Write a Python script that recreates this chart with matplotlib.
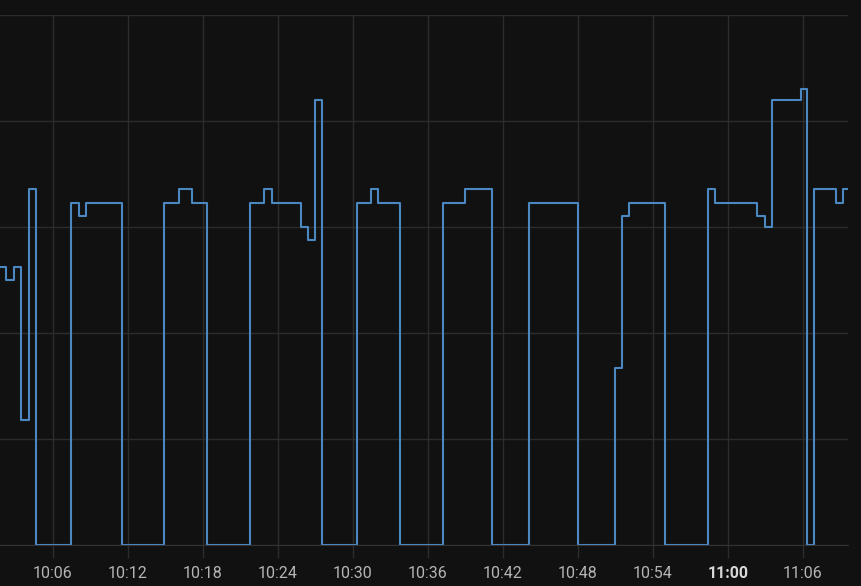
import numpy as np
import pandas as pd
import matplotlib
matplotlib.use("Agg")
import matplotlib.pyplot as plt
import matplotlib.dates as mdates

# step change points: minutes after 10:00 and the value held from there
minutes = [1.76, 2.24, 2.88, 3.44, 4.08, 4.64,
           7.44, 8.08, 8.64, 11.52,
           14.88, 16.08, 17.12, 18.32,
           21.76, 22.88, 23.52, 25.84, 26.40, 26.96, 27.52,
           30.32, 31.44, 32.00, 33.76,
           37.20, 38.96, 41.12,
           44.08, 48.00,
           50.96, 51.52, 52.08, 54.96,
           58.40, 58.96, 62.32, 62.96, 63.52, 65.84, 66.32,
           66.88, 68.64, 69.20, 69.60]
values = [131, 125, 131, 59, 168, 0,
          161.5, 155, 161.5, 0,
          161.5, 168, 161.5, 0,
          161.5, 168, 161.5, 150, 144, 210, 0,
          161.5, 168, 161.5, 0,
          161.5, 168, 0,
          161.5, 0,
          83.5, 155, 161.5, 0,
          168, 161.5, 155, 150, 210, 215, 0,
          168, 161.5, 168, 168]

tick_labels = ["10:06", "10:12", "10:18", "10:24", "10:30", "10:36",
               "10:42", "10:48", "10:54", "11:00", "11:06"]

base = pd.Timestamp("2024-01-01 10:00")
times = base + pd.to_timedelta(minutes, unit="m")

bg = "#111111"
grid = "#2c2c2c"
line_color = "#4b88c2"
label_color = "#b5b5b5"

fig = plt.figure(figsize=(8.61, 5.86), dpi=100, facecolor=bg)
ax = fig.add_axes([0.0, 41 / 586, 848 / 861, 530 / 586])
ax.set_facecolor(bg)

ax.step(times, values, where="post", color=line_color, lw=1.5)

ax.set_ylim(0, 250)
ax.set_yticks(np.arange(0, 251, 50))
ax.set_yticklabels([])
ax.tick_params(axis="y", length=0)

ax.set_xlim(base + pd.Timedelta(minutes=1.76), base + pd.Timedelta(minutes=69.6))
tick_pos = [base + pd.Timedelta(hours=int(t[:2]) - 10, minutes=int(t[3:])) for t in tick_labels]
ax.set_xticks(tick_pos)
ax.xaxis.set_major_formatter(mdates.DateFormatter("%H:%M"))
ax.tick_params(axis="x", length=9, width=1, color=grid, colors=label_color,
               labelsize=11.5, pad=6)
for lbl in ax.get_xticklabels():
    lbl.set_fontfamily("Roboto")
    if lbl.get_text() == "11:00":
        lbl.set_fontweight("bold")
        lbl.set_color("#d8d8d8")

# the 10:00 label sits just off the left edge, only its tail shows
ax.annotate("10:00", xy=(mdates.date2num(base), 0), xycoords=("data", "axes fraction"),
            xytext=(0, -15), textcoords="offset points", ha="center", va="top",
            color=label_color, fontsize=11.5, fontfamily="Roboto", annotation_clip=False)

ax.grid(True, color=grid, lw=1)
ax.set_axisbelow(True)
for s in ax.spines.values():
    s.set_visible(False)
ax.spines["bottom"].set_visible(True)
ax.spines["bottom"].set_color("#333333")

fig.savefig("out.png", dpi=100, facecolor=bg)
